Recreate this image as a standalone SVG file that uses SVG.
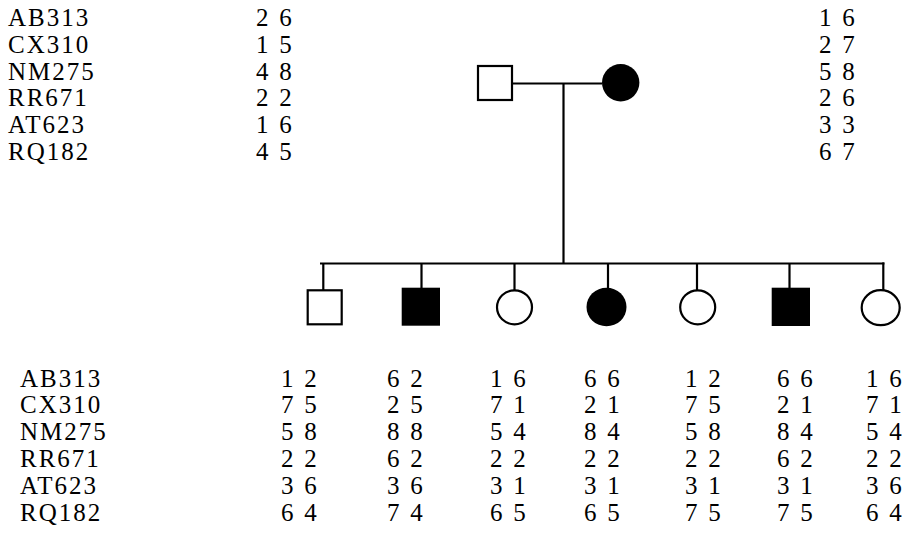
<svg xmlns="http://www.w3.org/2000/svg" width="904" height="552" viewBox="0 0 904 552">
<style>
.t{font-family:'Liberation Serif','Times New Roman',serif;font-size:25px;fill:#000;letter-spacing:2px}
.d{letter-spacing:0;word-spacing:4.5px}
.open{fill:#fff;stroke:#000;stroke-width:2.2}
.aff{fill:#000;stroke:none}
.ln{stroke:#000;stroke-width:2.2;fill:none}
</style>
<rect width="904" height="552" fill="#fff"/>
<g id="connectors">
<line class="ln" x1="512" y1="83.5" x2="602" y2="83.5"/>
<line class="ln" x1="563.5" y1="83.5" x2="563.5" y2="263.5"/>
<line class="ln" x1="320" y1="263.5" x2="884.4" y2="263.5"/>
<line class="ln" x1="323.3" y1="263.5" x2="323.3" y2="290"/>
<line class="ln" x1="421.5" y1="263.5" x2="421.5" y2="288"/>
<line class="ln" x1="514.5" y1="263.5" x2="514.5" y2="292"/>
<line class="ln" x1="608" y1="263.5" x2="608" y2="290"/>
<line class="ln" x1="697" y1="263.5" x2="697" y2="290"/>
<line class="ln" x1="789.5" y1="263.5" x2="789.5" y2="288"/>
<line class="ln" x1="883.3" y1="262.4" x2="883.3" y2="290"/>
</g>
<g id="father"><rect class="open" x="478" y="66" width="34" height="34"/></g>
<g id="mother"><circle class="aff" cx="620.7" cy="82.7" r="18.7"/></g>
<g id="child1"><rect class="open" x="307.7" y="290.3" width="34" height="34"/></g>
<g id="child2"><rect class="aff" x="401.7" y="287.7" width="38.3" height="38"/></g>
<g id="child3"><ellipse class="open" cx="514.5" cy="307.3" rx="17.5" ry="17"/></g>
<g id="child4"><ellipse class="aff" cx="606.5" cy="307" rx="20" ry="19.3"/></g>
<g id="child5"><ellipse class="open" cx="697.7" cy="307.3" rx="17.5" ry="17"/></g>
<g id="child6"><rect class="aff" x="771.7" y="287.7" width="38.3" height="38.3"/></g>
<g id="child7"><ellipse class="open" cx="880.7" cy="307.7" rx="19" ry="17.5"/></g>
<g id="labels-top" class="t">
<text x="8" y="26">AB313</text>
<text x="8" y="52.8">CX310</text>
<text x="8" y="79.6">NM275</text>
<text x="8" y="106.4">RR671</text>
<text x="8" y="133.2">AT623</text>
<text x="8" y="160">RQ182</text>
</g>
<g id="father-genotype" class="t d">
<text x="256" y="26">2 6</text>
<text x="256" y="52.8">1 5</text>
<text x="256" y="79.6">4 8</text>
<text x="256" y="106.4">2 2</text>
<text x="256" y="133.2">1 6</text>
<text x="256" y="160">4 5</text>
</g>
<g id="mother-genotype" class="t d">
<text x="819" y="26">1 6</text>
<text x="819" y="52.8">2 7</text>
<text x="819" y="79.6">5 8</text>
<text x="819" y="106.4">2 6</text>
<text x="819" y="133.2">3 3</text>
<text x="819" y="160">6 7</text>
</g>
<g id="labels-bottom" class="t">
<text x="20" y="386.5">AB313</text>
<text x="20" y="413.3">CX310</text>
<text x="20" y="440.1">NM275</text>
<text x="20" y="466.9">RR671</text>
<text x="20" y="493.7">AT623</text>
<text x="20" y="520.5">RQ182</text>
</g>
<g id="child1-genotype" class="t d">
<text x="281" y="386.5">1 2</text>
<text x="281" y="413.3">7 5</text>
<text x="281" y="440.1">5 8</text>
<text x="281" y="466.9">2 2</text>
<text x="281" y="493.7">3 6</text>
<text x="281" y="520.5">6 4</text>
</g>
<g id="child2-genotype" class="t d">
<text x="387" y="386.5">6 2</text>
<text x="387" y="413.3">2 5</text>
<text x="387" y="440.1">8 8</text>
<text x="387" y="466.9">6 2</text>
<text x="387" y="493.7">3 6</text>
<text x="387" y="520.5">7 4</text>
</g>
<g id="child3-genotype" class="t d">
<text x="490" y="386.5">1 6</text>
<text x="490" y="413.3">7 1</text>
<text x="490" y="440.1">5 4</text>
<text x="490" y="466.9">2 2</text>
<text x="490" y="493.7">3 1</text>
<text x="490" y="520.5">6 5</text>
</g>
<g id="child4-genotype" class="t d">
<text x="584" y="386.5">6 6</text>
<text x="584" y="413.3">2 1</text>
<text x="584" y="440.1">8 4</text>
<text x="584" y="466.9">2 2</text>
<text x="584" y="493.7">3 1</text>
<text x="584" y="520.5">6 5</text>
</g>
<g id="child5-genotype" class="t d">
<text x="685" y="386.5">1 2</text>
<text x="685" y="413.3">7 5</text>
<text x="685" y="440.1">5 8</text>
<text x="685" y="466.9">2 2</text>
<text x="685" y="493.7">3 1</text>
<text x="685" y="520.5">7 5</text>
</g>
<g id="child6-genotype" class="t d">
<text x="777" y="386.5">6 6</text>
<text x="777" y="413.3">2 1</text>
<text x="777" y="440.1">8 4</text>
<text x="777" y="466.9">6 2</text>
<text x="777" y="493.7">3 1</text>
<text x="777" y="520.5">7 5</text>
</g>
<g id="child7-genotype" class="t d">
<text x="866" y="386.5">1 6</text>
<text x="866" y="413.3">7 1</text>
<text x="866" y="440.1">5 4</text>
<text x="866" y="466.9">2 2</text>
<text x="866" y="493.7">3 6</text>
<text x="866" y="520.5">6 4</text>
</g>
</svg>
